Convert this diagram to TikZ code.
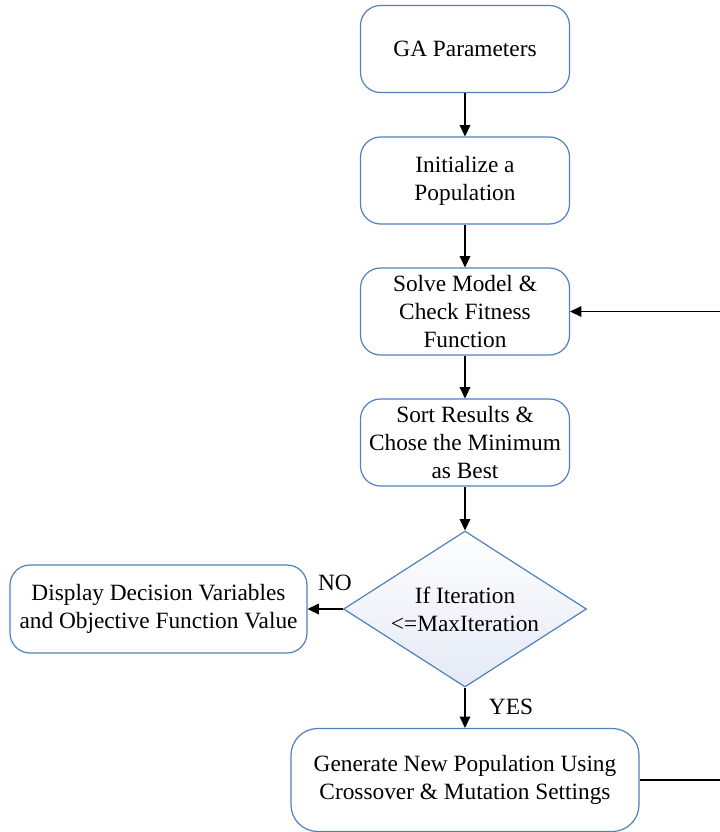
\documentclass[tikz,border=0pt]{standalone}
\usepackage{fontspec}
\setmainfont{Liberation Serif}
\usetikzlibrary{shapes.geometric,arrows.meta}
\definecolor{bord}{RGB}{79,129,189}
\definecolor{dfill}{RGB}{228,233,245}
\tikzset{
  box/.style={draw=bord, line width=0.9pt, rounded corners=15pt, align=center,
    minimum width=156.75pt, minimum height=65.25pt, inner sep=2pt,
    font=\fontsize{17.5}{21}\selectfont},
  dec/.style={draw=bord, line width=0.9pt, diamond, aspect=1.56, align=center,
    inner sep=0pt, minimum width=182.25pt, minimum height=117pt,
    top color=white, bottom color=dfill,
    font=\fontsize{17.5}{21}\selectfont},
  arr/.style={draw=black, line width=1.1pt, -{Triangle[length=8.5pt,width=8pt]}},
  lbl/.style={font=\fontsize{17.5}{21}\selectfont, inner sep=0pt}
}
\begin{document}
\begin{tikzpicture}[x=0.75pt,y=-0.75pt]
\useasboundingbox (0,0) rectangle (719,832);
\node[box] (ga) at (465,49) {GA Parameters};
\node[box] (init) at (465,180.5) {Initialize a\\Population};
\node[box] (solve) at (465,311.5) {Solve Model \&\\Check Fitness\\Function};
\node[box] (sort) at (465,442.5) {Sort Results \&\\Chose the Minimum\\as Best};
\node[dec] (if) at (465,609) {If Iteration\\<=MaxIteration};
\node[box, minimum width=222.75pt, minimum height=66pt] (disp) at (158.5,609) {Display Decision Variables\\and Objective Function Value};
\node[box, minimum width=261pt, minimum height=77.25pt, rounded corners=20pt] (gen) at (465,780) {Generate New Population Using\\Crossover \& Mutation Settings};
\node[lbl] (no) at (335,583) {NO};
\node[lbl] (yes) at (511,707) {YES};
\coordinate (fb) at (721,780);
\draw[arr] (ga) -- (init);
\draw[arr] (init) -- (solve);
\draw[arr] (solve) -- (sort);
\draw[arr] (sort) -- (if);
\draw[arr] (if.west) -- (disp.east);
\draw[arr] (if.south) -- (gen.north);
\draw[arr] (gen.east) -- (fb) |- (solve.east);
\end{tikzpicture}
\end{document}
